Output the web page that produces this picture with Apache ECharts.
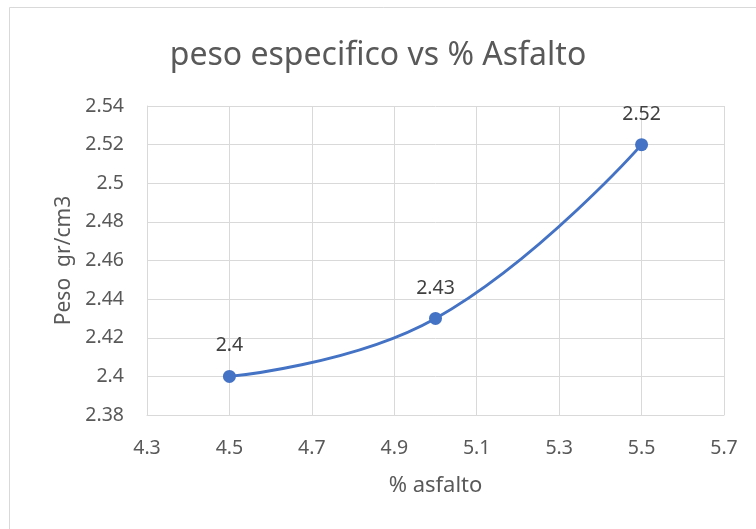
<!DOCTYPE html>
<html>
<head>
<meta charset="utf-8">
<script src="https://cdn.jsdelivr.net/npm/echarts@6/dist/echarts.min.js"></script>
<style>
  html, body { margin: 0; padding: 0; background: #fff; }
  #chart { width: 756px; height: 529px; }
</style>
</head>
<body>
<div id="chart"></div>
<script>
// datos
const asfalto = [4.5, 5.0, 5.5]
const peso = [2.40, 2.43, 2.52]

const xTicks = { min: 4.3, max: 5.7, interval: 0.2 }
const yTicks = { min: 2.38, max: 2.54, interval: 0.02 }

const textColor = '#595959'
const gridColor = '#d9d9d9'
const font = 'Noto Sans'

const myChart = echarts.init(document.getElementById('chart'))

const option = {
  backgroundColor: '#fff',
  textStyle: { fontFamily: font },
  title: {
    text: 'peso especifico vs % Asfalto',
    left: 'center',
    top: 35,
    textStyle: { color: textColor, fontSize: 32, fontWeight: 'normal', fontFamily: font }
  },
  // marco del grafico
  graphic: [{
    type: 'rect',
    shape: { x: 9.5, y: 7.5, width: 760, height: 540 },
    style: { fill: 'none', stroke: gridColor, lineWidth: 1 },
    silent: true
  }],
  grid: { left: 147, top: 106, right: 32, bottom: 114 },
  xAxis: {
    type: 'value',
    min: xTicks.min,
    max: xTicks.max,
    interval: xTicks.interval,
    name: '% asfalto',
    nameLocation: 'middle',
    nameGap: 60,
    nameTextStyle: { color: textColor, fontSize: 22 },
    axisLine: { show: true, onZero: false, lineStyle: { color: gridColor, width: 1 } },
    axisTick: { show: false },
    axisLabel: { color: textColor, fontSize: 19.5, margin: 23, formatter: v => String(+v.toFixed(1)) },
    splitLine: { show: true, lineStyle: { color: gridColor, width: 1 } }
  },
  yAxis: {
    type: 'value',
    min: yTicks.min,
    max: yTicks.max,
    interval: yTicks.interval,
    name: 'Peso  gr/cm3',
    nameLocation: 'middle',
    nameGap: 65,
    nameTextStyle: { color: textColor, fontSize: 21 },
    axisLine: { show: true, lineStyle: { color: gridColor, width: 1 } },
    axisTick: { show: false },
    axisLabel: { color: textColor, fontSize: 19.5, margin: 23, formatter: v => String(+v.toFixed(2)) },
    splitLine: { show: true, lineStyle: { color: gridColor, width: 1 } }
  },
  series: [{
    type: 'line',
    data: asfalto.map((x, i) => [x, peso[i]]),
    smooth: 0.45,
    symbol: 'circle',
    symbolSize: 13,
    lineStyle: { color: '#4472C4', width: 3 },
    itemStyle: { color: '#4472C4' },
    label: {
      show: true,
      position: 'top',
      distance: 14,
      color: '#404040',
      fontSize: 19.5,
      formatter: p => String(p.value[1])
    },
    animation: false
  }]
}

myChart.setOption(option)
</script>
</body>
</html>
